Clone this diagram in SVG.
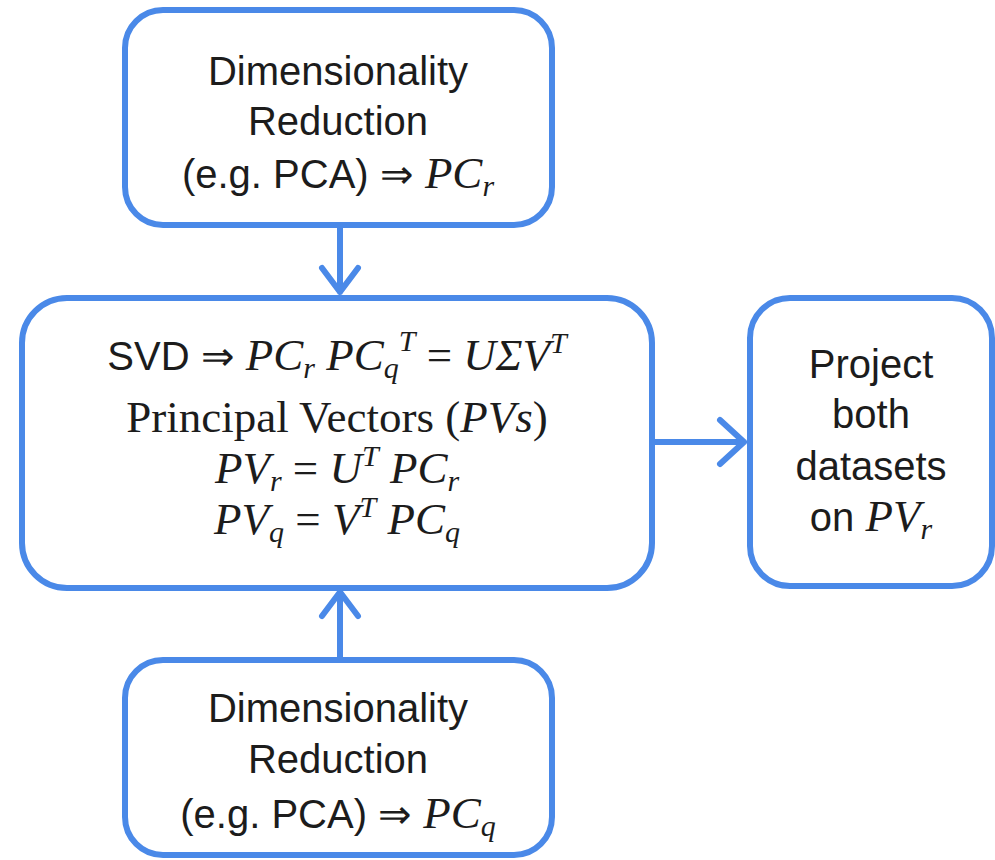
<svg xmlns="http://www.w3.org/2000/svg" width="995" height="860" viewBox="0 0 995 860">
  <style>
    .box { fill: #ffffff; stroke: #4a89e8; stroke-width: 6; }
    .conn { fill: none; stroke: #4a89e8; stroke-width: 6; stroke-linecap: round; stroke-linejoin: round; }
    text { fill: #1c1c1c; text-anchor: middle; }
    .sans { font-family: "Liberation Sans", Arial, sans-serif; font-size: 40px; }
    .serif { font-family: "Liberation Serif", "Times New Roman", serif; font-size: 45px; }
    .it { font-family: "Liberation Serif", "Times New Roman", serif; font-style: italic; font-size: 45px; }
    .sub { font-size: 30px; }
  </style>
  <rect width="995" height="860" fill="#ffffff"/>

  <g id="connectors">
    <path class="conn" d="M340 226 V292 M322 268 L340 292 L358 268"/>
    <path class="conn" d="M340 658 V592 M322 616 L340 592 L358 616"/>
    <path class="conn" d="M652 442 H744 M720 420 L744 442 L720 464"/>
  </g>

  <g id="dimred-r">
    <rect class="box" x="125" y="10" width="427" height="215" rx="38"/>
    <text class="sans" x="338" y="85">Dimensionality</text>
    <text class="sans" x="338" y="135">Reduction</text>
    <text class="sans" x="338" y="188">(e.g. PCA) ⇒ <tspan class="it">PC</tspan><tspan class="it sub" dy="8">r</tspan></text>
  </g>

  <g id="svd">
    <rect class="box" x="22" y="298" width="630" height="290" rx="45"/>
    <text class="sans" x="337" y="370">SVD ⇒ <tspan class="it">PC</tspan><tspan class="it sub" dy="8">r</tspan><tspan class="it" dy="-8"> PC</tspan><tspan class="it sub" dy="8">q</tspan><tspan class="it sub" dy="-27">T</tspan><tspan class="serif" dy="19"> = </tspan><tspan class="it">UΣV</tspan><tspan class="it sub" dy="-17">T</tspan></text>
    <text class="serif" x="337" y="432">Principal Vectors (<tspan class="it">PVs</tspan>)</text>
    <text class="serif" x="337" y="483"><tspan class="it">PV</tspan><tspan class="it sub" dy="8">r</tspan><tspan dy="-8"> = </tspan><tspan class="it">U</tspan><tspan class="it sub" dy="-17">T</tspan><tspan class="it" dy="17"> PC</tspan><tspan class="it sub" dy="8">r</tspan></text>
    <text class="serif" x="337" y="534"><tspan class="it">PV</tspan><tspan class="it sub" dy="8">q</tspan><tspan dy="-8"> = </tspan><tspan class="it">V</tspan><tspan class="it sub" dy="-17">T</tspan><tspan class="it" dy="17"> PC</tspan><tspan class="it sub" dy="8">q</tspan></text>
  </g>

  <g id="project">
    <rect class="box" x="750" y="298" width="242" height="288" rx="40"/>
    <text class="sans" x="871" y="378">Project</text>
    <text class="sans" x="871" y="428">both</text>
    <text class="sans" x="871" y="480">datasets</text>
    <text class="sans" x="871" y="531">on <tspan class="it">PV</tspan><tspan class="it sub" dy="8">r</tspan></text>
  </g>

  <g id="dimred-q">
    <rect class="box" x="125" y="660" width="427" height="195" rx="38"/>
    <text class="sans" x="338" y="722">Dimensionality</text>
    <text class="sans" x="338" y="773">Reduction</text>
    <text class="sans" x="338" y="828">(e.g. PCA) ⇒ <tspan class="it">PC</tspan><tspan class="it sub" dy="8">q</tspan></text>
  </g>
</svg>
